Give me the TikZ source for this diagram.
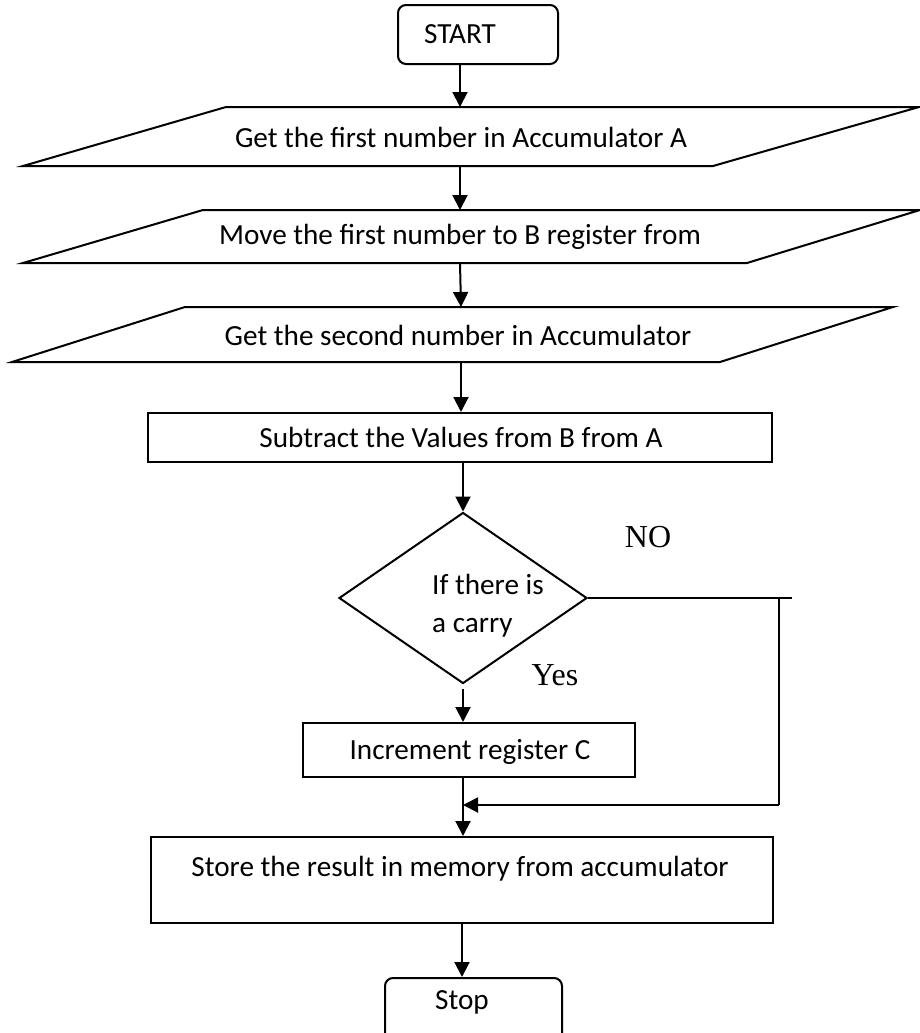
\documentclass[tikz,border=0pt]{standalone}
\usepackage{fontspec}
\setmainfont{Carlito}
\newfontfamily\labelfont{Liberation Serif}
\usetikzlibrary{shapes.geometric,arrows.meta}

\begin{document}
\begin{tikzpicture}[x=0.5pt,y=-0.5pt,line width=1pt,
  every node/.style={font=\fontsize{14.6}{19}\selectfont},
  flow/.style={-{Triangle[length=7.5pt,width=7.5pt]}},
  box/.style={draw,rectangle,inner sep=0pt},
  term/.style={draw,rectangle,rounded corners=4pt,inner sep=0pt},
  io/.style={draw,line join=miter},
  txt/.style={inner sep=0pt},
  lbl/.style={inner sep=0pt,font=\labelfont\fontsize{16}{18}\selectfont}]

\useasboundingbox (0,0) rectangle (920,1033);
\clip (0,0) rectangle (920,1033);

% terminal: start
\node[term,minimum width=80pt,minimum height=29.5pt] (start) at (478,34.5) {};
\node[txt] (starttext) at (460,34) {START};

% input / output steps
\draw[io] (23,166) -- (713,166) -- (919,107) -- (226,107) -- cycle;
\coordinate (p1top) at (460,107);
\coordinate (p1bot) at (460,166);
\node[txt] (p1text) at (461,137) {Get the first number in Accumulator A};

\draw[io] (23,263) -- (747,263) -- (920,210) -- (203,210) -- cycle;
\coordinate (p2top) at (460,210);
\coordinate (p2bot) at (460,263);
\node[txt] (p2text) at (460,237) {Move the first number to B register from};

\draw[io] (12,362) -- (720,362) -- (893,307) -- (185,307) -- cycle;
\coordinate (p3top) at (461,307);
\coordinate (p3bot) at (461,362);
\node[txt] (p3text) at (458,335) {Get the second number in Accumulator};

% processing
\node[box,minimum width=312pt,minimum height=24.5pt] (sub) at (460,437.5) {};
\node[txt] (subtext) at (461,437) {Subtract the Values from B from A};

% decision
\node[draw,diamond,minimum width=124pt,minimum height=85.5pt,inner sep=0pt] (dec) at (463,598) {};
\node[txt,align=left] (dectext) at (488,606) {If there is\\a carry};
\node[lbl] (nolbl) at (648,537) {NO};
\node[lbl] (yeslbl) at (555,675) {Yes};

\node[box,minimum width=166pt,minimum height=27pt] (inc) at (469,750) {};
\node[txt] (inctext) at (470,752) {Increment register C};

\node[box,minimum width=311pt,minimum height=43pt] (store) at (462,880) {};
\node[txt] (storetext) at (460,869) {Store the result in memory from accumulator};

% terminal: stop (runs off the lower edge)
\node[term,minimum width=88.5pt,minimum height=40pt] (stop) at (473.5,1018) {};
\node[txt] (stoptext) at (462,1002) {Stop};

% main flow
\draw[flow] (start.south -| p1top) -- (p1top);
\draw[flow] (p1bot) -- (p2top);
\draw[flow] (p2bot) -- (p3top);
\draw[flow] (p3bot) -- (sub.north -| p3bot);
\draw[flow] (sub.south -| dec.north) -- (dec.north);
\draw[flow] ([yshift=-2pt]dec.south) -- (inc.north -| dec.south);
\draw[flow] (inc.south -| dec.south) -- (store.north -| dec.south);
\draw[flow] (store.south -| stoptext) -- (stop.north -| stoptext);

% NO branch rejoining above the store step
\coordinate (noend) at (792,598);
\coordinate (nodown) at (779,598);
\coordinate (nojoin) at (779,805);
\coordinate (merge) at (463,805);
\draw (dec.east) -- (noend);
\draw (nodown) -- (nojoin);
\draw[flow] (nojoin) -- (merge);
\end{tikzpicture}
\end{document}
